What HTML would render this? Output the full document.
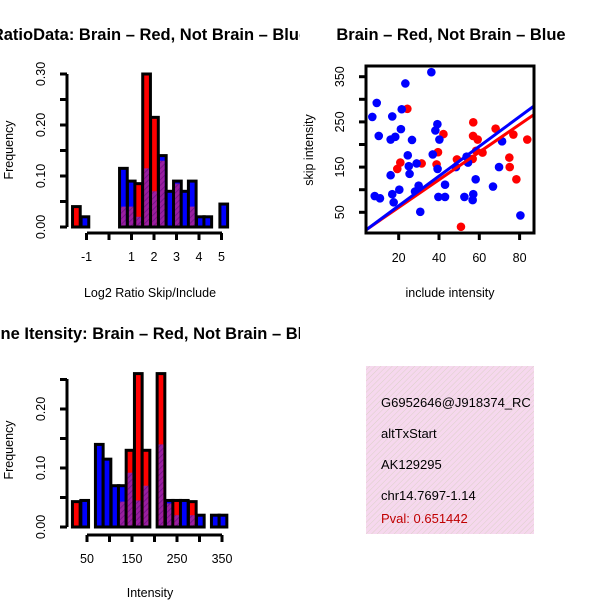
<!DOCTYPE html>
<html><head><meta charset="utf-8"><style>
html,body{margin:0;padding:0;background:#fff;width:600px;height:600px;overflow:hidden}
svg{display:block;font-family:"Liberation Sans",Helvetica,sans-serif}
</style></head><body>
<svg id="s" width="600" height="600" viewBox="0 0 600 600">
<defs>
<pattern id="hatch" width="4" height="4" patternUnits="userSpaceOnUse" patternTransform="rotate(45)">
<rect width="4" height="4" fill="#9a1fa0"/><line x1="0" y1="0" x2="0" y2="4" stroke="#6a0f80" stroke-width="1.5"/></pattern>
<pattern id="pink" width="4" height="4" patternUnits="userSpaceOnUse" patternTransform="rotate(45)">
<rect width="4" height="4" fill="#f6d8ee"/><line x1="0" y1="0" x2="0" y2="4" stroke="#dcd0c8" stroke-width="1"/></pattern>
<clipPath id="cl"><rect x="0" y="0" width="300" height="600"/></clipPath>
<clipPath id="cbox"><rect x="366" y="366" width="168" height="168"/></clipPath>
<clipPath id="cscat"><rect x="366" y="66" width="168" height="167"/></clipPath>
</defs>
</svg>
<script>
// ---- Histogram 1 data (Log2 ratio) ----
const h1Centers=[-1.45,-1.07,0.64,0.99,1.32,1.67,2.02,2.37,2.71,3.04,3.38,3.70,4.06,4.39,5.1];
const h1Red=[0.04,0,0.04,0.04,0.085,0.30,0.215,0.13,0,0.085,0,0.04,0,0,0];
const h1Blue=[0,0.02,0.115,0.09,0.02,0.115,0.07,0.14,0.07,0.09,0.07,0.09,0.02,0.02,0.045];
const h1XTicks=[-1,0,1,2,3,4,5];
const h1XLabels=["-1","","1","2","3","4","5"];
const h1YTicks=[0,0.05,0.1,0.15,0.2,0.25,0.3];
const h1YLabels=["0.00","","0.10","","0.20","","0.30"];
// ---- Histogram 2 data (Intensity) ----
const h2Centers=[26.2,44.9,77.3,94.4,112.2,128.4,145.6,164,181.1,214.4,232.9,249.3,266.2,284,301.8,335.1,352.2];
const h2Red=[0.043,0,0,0,0,0.043,0.13,0.26,0.13,0.26,0.04,0.045,0,0.043,0,0,0];
const h2Blue=[0,0.045,0.14,0.115,0.07,0.07,0.092,0.045,0.07,0.14,0.045,0.02,0.045,0.02,0.02,0.02,0.02];
const h2XTicks=[50,100,150,200,250,300,350];
const h2XLabels=["50","","150","","250","","350"];
const h2YTicks=[0,0.05,0.1,0.15,0.2,0.25];
const h2YLabels=["0.00","","0.10","","0.20",""];
// ---- Scatter data ----
const blueX=[36.2,23.3,9.1,6.9,16.8,21.5,39.2,38.2,21.1,10.1,18.3,16.0,26.6,40.2,36.9,24.5,25.0,28.9,39.3,25.4,16.0,53.7,48.4,54.4,69.8,58.2,66.8,43.0,29.9,28.1,20.3,16.8,8.1,10.7,17.5,39.7,43.0,52.6,57.0,56.7,30.7,80.4,71.3];
const blueY=[360,335,292,261,262,278,245,231,234,219,217,211,210,211,178,176,152,158,146,135,132,173,150,160,150,123,107,111,109,96,100,90,86,81,72,84,84,84,90,77,51,43,207];
const redX=[24.3,42.2,57.0,68.1,56.9,59.2,76.9,83.8,39.5,58.4,61.6,48.9,38.8,31.4,20.8,19.3,56.7,74.9,75.1,78.4,50.9];
const redY=[279,223,249,235,219,211,222,211,183,186,182,167,156,158,160,146,168,171,150,123,18];
const blueFit=[-1.5,3.29];
const redFit=[-0.5,3.06];
const scXTicks=[20,40,60,80];
const scYTicks=[50,100,150,200,250,300,350];
const scYLabels=["50","","150","","250","","350"];

const svg=document.getElementById('s');
const NS='http://www.w3.org/2000/svg';
function mk(tag,at,parent){const e=document.createElementNS(NS,tag);for(const k in at)e.setAttribute(k,at[k]);(parent||svg).appendChild(e);return e;}
function txt(x,y,s,at,parent){const t=mk('text',Object.assign({x:x,y:y,'font-size':12.5},at||{}),parent);t.textContent=s;return t;}

function hist(g,centers,red,blue,xs,ys,bw,xTicks,xLabels,yTicks,yLabels,xAxisY,xAxisFrom,xAxisTo,yAxisX,yTop){
  for(let i=0;i<centers.length;i++){
    const x0=xs(centers[i])-bw/2;
    const r=red[i],b=blue[i];
    const hi=Math.max(r,b),lo=Math.min(r,b);
    if(hi<=0)continue;
    const big=mk('rect',{x:x0,y:ys(hi),width:bw,height:ys(0)-ys(hi),fill:r>=b?'#ff0000':'#0000ff',stroke:'#000','stroke-width':3},g);
    
    
    if(lo>0){
      const ov=mk('rect',{x:x0+1.5,y:ys(lo),width:bw-3,height:ys(0)-ys(lo)-1.5,fill:'url(#hatch)'},g);
      
      
    }
  }
  const xa=mk('g',{},g);
  
  
  mk('line',{x1:xAxisFrom,y1:xAxisY,x2:xAxisTo,y2:xAxisY,stroke:'#000','stroke-width':3},xa);
  xTicks.forEach((v,i)=>{mk('line',{x1:xs(v),y1:xAxisY,x2:xs(v),y2:xAxisY+7,stroke:'#000','stroke-width':3},xa);
    if(xLabels[i]){const t=txt(xs(v),xAxisY+28,xLabels[i],{'text-anchor':'middle'},xa);}});
  const ya=mk('g',{},g);
  
  
  mk('line',{x1:yAxisX,y1:ys(0),x2:yAxisX,y2:yTop,stroke:'#000','stroke-width':3},ya);
  yTicks.forEach((v,i)=>{mk('line',{x1:yAxisX,y1:ys(v),x2:yAxisX-7,y2:ys(v),stroke:'#000','stroke-width':3},ya);
    if(yLabels[i]){const t=txt(yAxisX-22,ys(v),yLabels[i],{'text-anchor':'middle',transform:'rotate(-90 '+(yAxisX-22)+' '+ys(v)+')'},ya);}});
}

// Panel 1
const p1=mk('g',{'clip-path':'url(#cl)'});


const t1=txt(150,40,'RatioData: Brain – Red, Not Brain – Blue',{'text-anchor':'middle','font-weight':'bold','font-size':16.5},p1);

hist(p1,h1Centers,h1Red,h1Blue,v=>109+v*22.5,v=>227-v*510,7.7,h1XTicks,h1XLabels,h1YTicks,h1YLabels,233,87,222,67,74);
const xl1=txt(150,297,'Log2 Ratio Skip/Include',{'text-anchor':'middle'},p1);

const yl1=txt(13,150,'Frequency',{'text-anchor':'middle',transform:'rotate(-90 13 150)'},p1);


// Panel 3
const p3=mk('g',{'clip-path':'url(#cl)'});


const t3=txt(150,339,'Gene Itensity: Brain – Red, Not Brain – Blue',{'text-anchor':'middle','font-weight':'bold','font-size':16.5},p3);

hist(p3,h2Centers,h2Red,h2Blue,v=>87+(v-50)*0.45,v=>527-v*590,7.7,h2XTicks,h2XLabels,h2YTicks,h2YLabels,535,87,222,67,379);
const xl3=txt(150,597,'Intensity',{'text-anchor':'middle'},p3);

const yl3=txt(13,450,'Frequency',{'text-anchor':'middle',transform:'rotate(-90 13 450)'},p3);


// Scatter
const p2=mk('g',{});


const sx=v=>358.4+v*2.015, sy=v=>234.9-v*0.452;
const t2=txt(451,40,'Brain – Red, Not Brain – Blue',{'text-anchor':'middle','font-weight':'bold','font-size':16.5},p2);

const pts=mk('g',{'clip-path':'url(#cscat)'},p2);
redX.forEach((x,i)=>{const c=mk('circle',{cx:sx(x),cy:sy(redY[i]),r:4.3,fill:'#ff0000'},pts);});
blueX.forEach((x,i)=>{const c=mk('circle',{cx:sx(x),cy:sy(blueY[i]),r:4.3,fill:'#0000ff'},pts);});
const rl=mk('line',{x1:sx(0),y1:sy(redFit[0]),x2:sx(100),y2:sy(redFit[0]+redFit[1]*100),stroke:'#ff0000','stroke-width':3},pts);

const bl=mk('line',{x1:sx(0),y1:sy(blueFit[0]),x2:sx(100),y2:sy(blueFit[0]+blueFit[1]*100),stroke:'#0000ff','stroke-width':3},pts);

const box=mk('rect',{x:366,y:66,width:168,height:167,fill:'none',stroke:'#000','stroke-width':3},p2);

scXTicks.forEach(v=>{mk('line',{x1:sx(v),y1:233,x2:sx(v),y2:240,stroke:'#000','stroke-width':3},p2);
  const t=txt(sx(v),262,String(v),{'text-anchor':'middle'},p2);});
scYTicks.forEach((v,i)=>{mk('line',{x1:366,y1:sy(v),x2:359,y2:sy(v),stroke:'#000','stroke-width':3},p2);
  if(scYLabels[i]){const t=txt(344,sy(v),scYLabels[i],{'text-anchor':'middle',transform:'rotate(-90 344 '+sy(v)+')'},p2);}});
const xl2=txt(450,297,'include intensity',{'text-anchor':'middle'},p2);

const yl2=txt(313,150,'skip intensity',{'text-anchor':'middle',transform:'rotate(-90 313 150)'},p2);


// Info box
const p4=mk('g',{'clip-path':'url(#cbox)'});


mk('rect',{x:366,y:366,width:168,height:168,fill:'url(#pink)'},p4);
const lines=[['G6952646@J918374_RC',407,'#000'],['altTxStart',438,'#000'],['AK129295',469,'#000'],['chr14.7697-1.14',500,'#000'],['Pval: 0.651442',523,'#c00000']];
const names=['gene-id','event-type','accession','location','p-value'];
lines.forEach((l,i)=>{const t=txt(381,l[1],l[0],{fill:l[2],'font-size':13},p4);});
</script>
</body></html>
